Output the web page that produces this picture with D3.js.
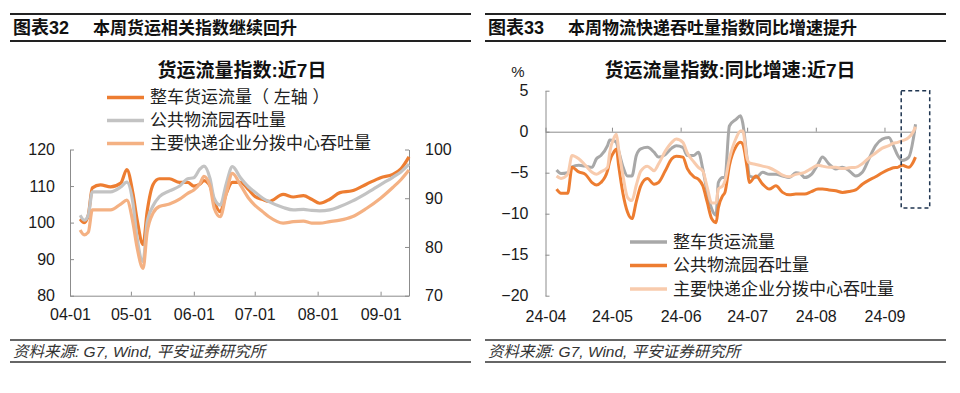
<!DOCTYPE html>
<html>
<head>
<meta charset="utf-8">
<script src="https://cdn.jsdelivr.net/npm/d3@7"></script>
<style>
  body { margin: 0; background: #fff; }
  svg { display: block; font-family: "Liberation Sans", Arial, "Noto Sans CJK SC", sans-serif; }
  .axis path, .axis line { stroke: #8c8c8c; }
  .axis text { font-size: 16px; fill: #1a1a1a; font-family: "Liberation Sans", Arial, sans-serif; }
</style>
</head>
<body>
<div id="chart"></div>
<script>
// ---- data: chart 32 (货运流量指数:近7日) ----
var leftDates = ["04-06","04-08","04-10","04-12","04-16","04-21","04-26","04-29","05-02","05-04",
  "05-07","05-09","05-12","05-15","05-20","05-25","05-29","06-01","06-04","06-06",
  "06-09","06-11","06-14","06-17","06-20","06-24","06-28","07-01","07-05","07-08",
  "07-15","07-20","07-25","07-29","08-02","08-07","08-12","08-18","08-25","09-01",
  "09-07","09-11","09-15"];
// 整车货运流量 (left axis)
var leftTruck = [101, 100, 102, 109.5, 110.3, 109.8, 110.8, 114.5, 108, 101,
  94, 103, 110.5, 112, 112, 111, 111, 110, 110.5, 111.5,
  110, 106, 103, 108, 111, 111, 109, 107.2, 106.3, 105.8,
  107.7, 107, 107.4, 106.4, 105.3, 106.4, 108.2, 108.7, 110.5, 112.3,
  113.2, 114.7, 118];
// 公共物流园吞吐量 (right axis)
var leftPark = [86.5, 85.5, 86.5, 91.3, 91.3, 91.3, 92.3, 93.3, 89, 82,
  77, 85, 88.5, 90.3, 91.5, 92.5, 94, 94.2, 96, 96.6,
  94, 90, 88.6, 93, 96.5, 94.2, 92.3, 91.3, 90, 89.3,
  88.1, 87.6, 87.7, 87.5, 87.4, 87.6, 88.3, 89.4, 91, 92.8,
  94.3, 95.4, 97];
// 主要快递企业分拨中心吞吐量 (right axis)
var leftExpress = [83.5, 82.5, 83, 87.6, 87.6, 87.6, 88.8, 89.6, 85, 80,
  75.6, 83, 87, 88.3, 88.8, 89.8, 91, 91.7, 93, 94.5,
  92.5, 88, 86.2, 91, 95.1, 92.7, 90, 88.6, 87.2, 86.2,
  84.9, 85.2, 85.3, 84.9, 84.9, 85.2, 85.5, 86.2, 87.9, 90,
  92.2, 93.8, 95.8];
var leftXTicks = ["04-01","05-01","06-01","07-01","08-01","09-01"];
var leftYTicks = [80, 90, 100, 110, 120];
var leftY2Ticks = [70, 80, 90, 100];

// ---- data: chart 33 (货运流量指数:同比增速:近7日, %) ----
var rightDates = ["04-06","04-08","04-11","04-13","04-16","04-19","04-22","04-24","04-26","04-29",
  "04-30","05-02","05-03","05-04","05-06","05-08","05-10","05-12","05-14","05-17",
  "05-20","05-22","05-25","05-28","05-30","06-02","06-04","06-07","06-09","06-11",
  "06-13","06-15","06-17","06-18","06-20","06-21","06-23","06-26","06-28","06-29",
  "07-01","07-02","07-05","07-08","07-11","07-14","07-17","07-20","07-23","07-25",
  "07-27","07-30","08-02","08-04","08-07","08-10","08-13","08-16","08-19","08-22",
  "08-25","08-28","08-31","09-03","09-05","09-07","09-09","09-12","09-14","09-15"];
// 整车货运流量
var rightTruck = [-4.67, -5.1, -5.0, -4.3, -4.1, -4.2, -4.35, -3.3, -2.9, -1.7,
  -1.0, -1.1, -1.3, -2.3, -4.3, -5.4, -5.4, -2.9, -2.1, -1.9,
  -2.5, -3.1, -2.8, -2.0, -1.7, -1.9, -2.9, -2.9, -2.5, -4.55,
  -7.4, -9.4, -10.2, -6.2, -5.6, -5.6, 0.7, 1.5, 1.95, 1.1,
  -3.3, -5.4, -5.6, -4.95, -5.2, -5.2, -5.4, -5.6, -5.0, -5.1,
  -5.6, -5.2, -3.95, -3.1, -3.95, -4.55, -4.35, -4.75, -5.4, -4.95,
  -3.3, -1.7, -0.9, -0.7, -1.7, -2.9, -3.5, -3.1, -0.9, 0.9];
// 公共物流园吞吐量
var rightPark = [-7.0, -7.5, -7.5, -4.35, -4.9, -5.2, -6.2, -6.5, -6.2, -4.75,
  -3.6, -2.4, -2.1, -4.1, -7.6, -9.8, -10.6, -8.5, -6.6, -5.7,
  -6.4, -6.2, -4.8, -3.3, -3.0, -3.1, -4.5, -5.5, -5.8, -6.6,
  -8.6, -10.6, -11.1, -9.3, -7.8, -7.4, -4.1, -1.8, -1.3, -1.5,
  -4.4, -6.2, -5.4, -6.4, -7.0, -6.6, -7.4, -7.7, -7.6, -7.6,
  -7.6, -7.3, -7.0, -7.0, -7.1, -7.2, -7.4, -7.3, -7.1, -6.4,
  -5.9, -5.5, -5.0, -4.6, -4.4, -4.35, -4.1, -4.35, -3.7, -3.1];
// 主要快递企业分拨中心吞吐量
var rightExpress = [-5.4, -5.7, -5.2, -2.9, -3.3, -4.1, -4.95, -5.2, -4.9, -4.35,
  -2.5, -0.7, -0.3, -2.1, -5.4, -8.0, -8.4, -6.5, -4.8, -4.2,
  -4.75, -3.95, -2.4, -1.3, -0.9, -1.3, -2.6, -3.7, -4.35, -4.8,
  -6.8, -8.7, -8.7, -7.0, -6.6, -6.0, -3.3, -0.8, 0.1, 0.1,
  -3.3, -3.8, -4.0, -4.2, -4.4, -4.8, -5.3, -5.5, -5.2, -5.1,
  -4.95, -4.5, -4.1, -4.2, -4.35, -4.35, -4.5, -4.4, -4.35, -3.9,
  -3.2, -2.6, -2.0, -1.7, -1.4, -1.3, -1.1, -0.7, 0.0, 0.6];
var rightXTicks = ["04-01","05-01","06-01","07-01","08-01","09-01"];
var rightYTicks = [5, 0, -5, -10, -15, -20];

var parseDate = function(s) { return d3.timeParse("%Y-%m-%d")("2024-" + s); };

var svg = d3.select("#chart").append("svg")
    .attr("width", 960)
    .attr("height", 393);

// header band + source band, shared by both panels
function drawFrame(x0, x1, headNum, headText, source) {
    var g = svg.append("g");
    g.append("line").attr("x1", x0).attr("x2", x1).attr("y1", 14).attr("y2", 14)
        .attr("stroke", "#222").attr("stroke-width", 2);
    g.append("line").attr("x1", x0).attr("x2", x1).attr("y1", 41).attr("y2", 41)
        .attr("stroke", "#222").attr("stroke-width", 2);
    g.append("text").attr("x", x0 + 3).attr("y", 28).attr("dy", "0.35em")
        .attr("font-size", "18px").attr("font-weight", "bold").attr("fill", "#111")
        .text(headNum);
    g.append("text").attr("x", x0 + 83).attr("y", 28).attr("dy", "0.35em")
        .attr("font-size", "17px").attr("font-weight", "bold").attr("fill", "#111")
        .text(headText);
    g.append("line").attr("x1", x0).attr("x2", x1).attr("y1", 340).attr("y2", 340)
        .attr("stroke", "#333").attr("stroke-width", 1.5);
    g.append("line").attr("x1", x0).attr("x2", x1).attr("y1", 362).attr("y2", 362)
        .attr("stroke", "#333").attr("stroke-width", 1.5);
    g.append("text").attr("x", x0 + 3).attr("y", 352).attr("dy", "0.35em")
        .attr("font-size", "15.5px").attr("font-style", "italic").attr("fill", "#333")
        .text(source);
}

function drawLegend(items, lx, ly, step) {
    var lg = svg.append("g");
    items.forEach(function(it, i) {
        lg.append("line")
            .attr("x1", lx).attr("x2", lx + 37)
            .attr("y1", ly + i * step).attr("y2", ly + i * step)
            .attr("stroke", it.color).attr("stroke-width", 3.5);
        lg.append("text")
            .attr("x", lx + 43).attr("y", ly + i * step).attr("dy", "0.35em")
            .attr("font-size", "17px").attr("fill", "#222")
            .text(it.name);
    });
}

// ================= chart 32 =================
drawFrame(10, 471, "图表32", "本周货运相关指数继续回升", "资料来源: G7, Wind, 平安证券研究所");

var lx = d3.scaleTime()
    .domain([parseDate("04-01"), parseDate("09-15")])
    .range([70, 409]);
var ly = d3.scaleLinear().domain([80, 120]).range([295.7, 149.5]);
var ly2 = d3.scaleLinear().domain([70, 100]).range([295.7, 149.5]);

svg.append("g").attr("class", "axis")
    .attr("transform", "translate(0,295.7)")
    .call(d3.axisBottom(lx)
        .tickValues(leftXTicks.map(parseDate))
        .tickFormat(d3.timeFormat("%m-%d"))
        .tickSize(-4).tickSizeOuter(0).tickPadding(13));
svg.append("g").attr("class", "axis")
    .attr("transform", "translate(70,0)")
    .call(d3.axisLeft(ly).tickValues(leftYTicks)
        .tickSize(-4).tickSizeOuter(0).tickPadding(15));
svg.append("g").attr("class", "axis")
    .attr("transform", "translate(409,0)")
    .call(d3.axisRight(ly2).tickValues(leftY2Ticks)
        .tickSize(-4).tickSizeOuter(0).tickPadding(16));

var leftSeries = [
    {name: "整车货运流量（ 左轴 ）", color: "#ED7D31", values: leftTruck, y: ly},
    {name: "公共物流园吞吐量", color: "#C3C3C3", values: leftPark, y: ly2},
    {name: "主要快递企业分拨中心吞吐量", color: "#F4B183", values: leftExpress, y: ly2}
];
leftSeries.forEach(function(s) {
    var line = d3.line()
        .x(function(d, i) { return lx(parseDate(leftDates[i])); })
        .y(function(d) { return s.y(d); })
        .curve(d3.curveMonotoneX);
    svg.append("path")
        .datum(s.values)
        .attr("fill", "none")
        .attr("stroke", s.color)
        .attr("stroke-width", 3.2)
        .attr("stroke-linejoin", "round")
        .attr("d", line);
});

svg.append("text").attr("x", 242).attr("y", 70).attr("dy", "0.35em")
    .attr("text-anchor", "middle").attr("font-size", "19px").attr("font-weight", "bold")
    .attr("fill", "#111").text("货运流量指数:近7日");
drawLegend(leftSeries, 107, 97.5, 23);

// ================= chart 33 =================
drawFrame(485, 946, "图表33", "本周物流快递吞吐量指数同比增速提升", "资料来源: G7, Wind, 平安证券研究所");

var rx = d3.scaleTime()
    .domain([parseDate("04-01"), parseDate("09-15")])
    .range([545.5, 915.5]);
var ry = d3.scaleLinear().domain([-20, 5]).range([295.7, 90.7]);

// zero line with small ticks, labels sit below the plot
svg.append("g").attr("class", "axis")
    .attr("transform", "translate(0," + ry(0) + ")")
    .call(d3.axisBottom(rx)
        .tickValues(rightXTicks.map(parseDate))
        .tickFormat("")
        .tickSize(-4).tickSizeOuter(0));
var rlab = svg.append("g").attr("class", "axis")
    .attr("transform", "translate(0,295.7)")
    .call(d3.axisBottom(rx)
        .tickValues(rightXTicks.map(parseDate))
        .tickFormat(function(d) { return d3.timeFormat("%y-%m")(d); })
        .tickSize(0).tickPadding(15));
rlab.select(".domain").remove();
svg.append("g").attr("class", "axis")
    .attr("transform", "translate(545.5,0)")
    .call(d3.axisLeft(ry).tickValues(rightYTicks)
        .tickSize(-4).tickSizeOuter(0).tickPadding(17));

var rightSeries = [
    {name: "整车货运流量", color: "#A8A8A8", values: rightTruck},
    {name: "公共物流园吞吐量", color: "#ED7D31", values: rightPark},
    {name: "主要快递企业分拨中心吞吐量", color: "#F8CBAD", values: rightExpress}
];
rightSeries.forEach(function(s) {
    var line = d3.line()
        .x(function(d, i) { return rx(parseDate(rightDates[i])); })
        .y(function(d) { return ry(d); })
        .curve(d3.curveMonotoneX);
    svg.append("path")
        .datum(s.values)
        .attr("fill", "none")
        .attr("stroke", s.color)
        .attr("stroke-width", 3)
        .attr("stroke-linejoin", "round")
        .attr("d", line);
});

// highlight box round the latest weeks
svg.append("rect")
    .attr("x", rx(parseDate("09-09")) - 1).attr("y", ry(5))
    .attr("width", 28.5).attr("height", ry(-9.3) - ry(5))
    .attr("fill", "none").attr("stroke", "#1F3550")
    .attr("stroke-width", 1.5).attr("stroke-dasharray", "4,3");

svg.append("text").attr("x", 730).attr("y", 70).attr("dy", "0.35em")
    .attr("text-anchor", "middle").attr("font-size", "19px").attr("font-weight", "bold")
    .attr("fill", "#111").text("货运流量指数:同比增速:近7日");
svg.append("text").attr("x", 518).attr("y", 72).attr("dy", "0.35em")
    .attr("text-anchor", "middle").attr("font-size", "15px").attr("fill", "#222")
    .text("%");
drawLegend(rightSeries, 630, 242, 23.5);
</script>
</body>
</html>
